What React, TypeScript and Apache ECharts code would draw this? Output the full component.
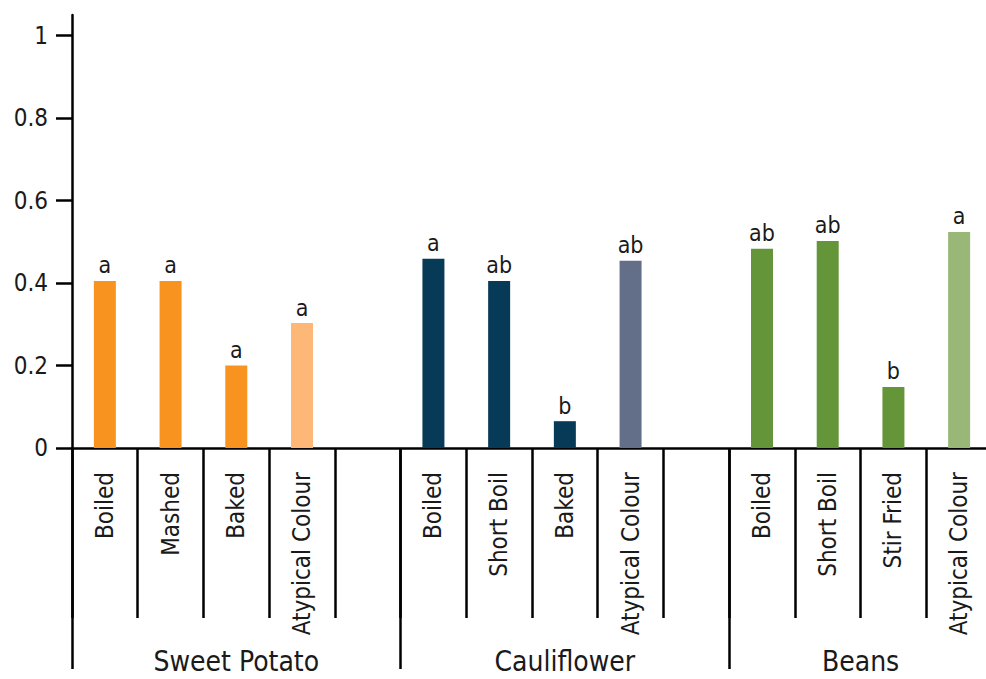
import React, { useEffect, useRef } from "react";
import * as echarts from "echarts";

const categories = [
  "Boiled", "Mashed", "Baked", "Atypical Colour", "",
  "Boiled", "Short Boil", "Baked", "Atypical Colour", "",
  "Boiled", "Short Boil", "Stir Fried", "Atypical Colour",
];
const values: (number | null)[] = [
  0.405, 0.405, 0.2, 0.303, null,
  0.459, 0.405, 0.065, 0.454, null,
  0.483, 0.502, 0.148, 0.524,
];
const letters = [
  "a", "a", "a", "a", "",
  "a", "ab", "b", "ab", "",
  "ab", "ab", "b", "a",
];
const barColors = [
  "#F7931E", "#F7931E", "#F7931E", "#FDB878", "",
  "#073A57", "#073A57", "#073A57", "#636F88", "",
  "#649639", "#649639", "#649639", "#99B777",
];
const groups = ["Sweet Potato", "Cauliflower", "Beans"];
const groupSizes = [5, 5, 4];
const yTicks = [0, 0.2, 0.4, 0.6, 0.8, 1];

const FONT = "'DejaVu Sans Condensed', 'DejaVu Sans', sans-serif";
const INK = "#1a1a1a";

export default function App() {
  const ref = useRef<HTMLDivElement>(null);
  useEffect(() => {
    if (!ref.current) return;
    const chart = echarts.init(ref.current, undefined, { renderer: "svg" });
    const groupBounds: number[] = [];
    const groupCenters: number[] = [];
    let acc = 0;
    groupSizes.forEach((s) => {
      groupBounds.push(acc);
      groupCenters.push(acc + s / 2);
      acc += s;
    });
    chart.setOption({
      animation: false,
      grid: {
        left: 72,
        right: -6,
        top: 15,
        bottom: 231,
        containLabel: false,
        outerBoundsMode: "none",
      },
      xAxis: [
        {
          type: "category",
          data: categories,
          position: "bottom",
          boundaryGap: true,
          axisLine: { show: true, lineStyle: { color: "#000", width: 2.5 } },
          axisTick: {
            show: true,
            interval: 0,
            length: 170,
            lineStyle: { color: "#000", width: 2.5 },
          },
          axisLabel: {
            interval: 0,
            rotate: 90,
            margin: 24,
            fontFamily: FONT,
            fontSize: 24,
            color: INK,
          },
          splitLine: { show: false },
        },
        {
          type: "value",
          min: 0,
          max: acc,
          position: "bottom",
          offset: 0,
          axisLine: { show: false },
          axisTick: {
            show: true,
            customValues: groupBounds,
            length: 221,
            lineStyle: { color: "#000", width: 2.5 },
          },
          axisLabel: {
            customValues: groupCenters,
            margin: 199,
            fontFamily: FONT,
            fontSize: 28,
            color: INK,
            formatter: (v: number) => {
              const i = groupCenters.findIndex((c) => Math.abs(c - v) < 1e-6);
              return i >= 0 ? groups[i] : "";
            },
          },
          splitLine: { show: false },
        },
      ],
      yAxis: {
        type: "value",
        min: 0,
        max: 1.05,
        axisLine: { show: true, lineStyle: { color: "#000", width: 2.5 } },
        axisTick: {
          show: true,
          customValues: yTicks,
          length: 16,
          lineStyle: { color: "#000", width: 2.5 },
        },
        axisLabel: {
          customValues: yTicks,
          margin: 24,
          fontFamily: FONT,
          fontSize: 24,
          color: INK,
        },
        splitLine: { show: false },
      },
      series: [
        {
          type: "bar",
          xAxisIndex: 0,
          barWidth: 22,
          data: values.map((v, i) => ({
            value: v,
            itemStyle: { color: barColors[i] || "#000" },
          })),
          label: {
            show: true,
            position: "top",
            distance: 4,
            fontFamily: FONT,
            fontSize: 23,
            color: INK,
            formatter: (p: any) => letters[p.dataIndex] || "",
          },
        },
      ],
    });
    return () => chart.dispose();
  }, []);
  return (
    <div
      ref={ref}
      style={{ position: "fixed", left: 0, top: 0, width: 986, height: 679, background: "#fff" }}
    />
  );
}
